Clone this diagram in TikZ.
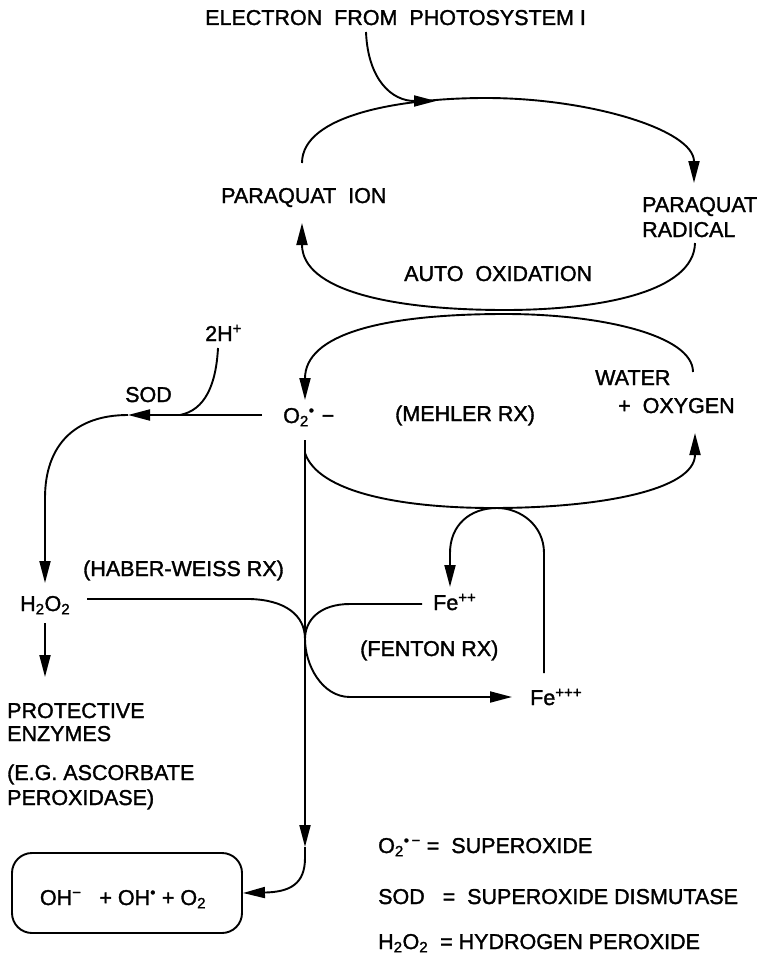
\documentclass[tikz,border=0pt]{standalone}
\usepackage{fontspec}
\setmainfont{Liberation Sans}
\newfontfamily\lblfam[FakeBold=1.5]{Liberation Sans}
\usetikzlibrary{arrows.meta}
\newcommand\lblfont{\lblfam\fontsize{21.5}{25}\selectfont}
\begin{document}
\begin{tikzpicture}[x=1pt,y=-1pt,
  lbl/.style={inner sep=0pt, font=\lblfont, align=left},
  flow/.style={line width=1.9pt, -{Triangle[length=22pt,width=11pt]}},
  plain/.style={line width=1.9pt},
  resbox/.style={draw, line width=1.9pt, rounded corners=20pt, minimum width=230pt, minimum height=80pt, inner sep=0pt}]
\useasboundingbox (0,0) rectangle (763,958);

% ---------- labels ----------
\node[lbl, anchor=base west] (electron) at (205,25) {ELECTRON\ \ FROM\ \ PHOTOSYSTEM I};
\node[lbl, anchor=base west] (pqion) at (221,203) {PARAQUAT\ \ ION};
\node[lbl, anchor=base west] (pqrad1) at (642,212) {PARAQUAT};
\node[lbl, anchor=base west] (pqrad2) at (642,237) {RADICAL};
\node[lbl, anchor=base west] (autoox) at (404,281) {AUTO\ \ OXIDATION};
\node[lbl, anchor=base west] (twoh) at (205,341) {2H\textsuperscript{+}};
\node[lbl, anchor=base west] (sod) at (125,402) {SOD};
\node[lbl, anchor=base west] (o2) at (283,423) {O\textsubscript{2}\textsuperscript{•}\,\,−};
\node[lbl, anchor=base west] (mehler) at (395,421) {(MEHLER RX)};
\node[lbl, anchor=base west] (water) at (595,385) {WATER};
\node[lbl, anchor=base west] (oxygen) at (618,413) {+\ \ OXYGEN};
\node[lbl, anchor=base west] (haber) at (83,576) {(HABER-WEISS RX)};
\node[lbl, anchor=base west] (h2o2) at (20,611) {H\textsubscript{2}O\textsubscript{2}};
\node[lbl, anchor=base west] (fe2) at (433,610) {Fe\textsuperscript{++}};
\node[lbl, anchor=base west] (fenton) at (360,656) {(FENTON RX)};
\node[lbl, anchor=base west] (fe3) at (530,705) {Fe\textsuperscript{+++}};
\node[lbl, anchor=base west] (prot1) at (7,718) {PROTECTIVE};
\node[lbl, anchor=base west] (prot2) at (7,741) {ENZYMES};
\node[lbl, anchor=base west] (eg1) at (7,780) {(E.G. ASCORBATE};
\node[lbl, anchor=base west] (eg2) at (7,805) {PEROXIDASE)};

% result box
\node[resbox] (res) at (127,893) {};
\node[lbl, anchor=base] (restext) at (123,905) {OH\textsuperscript{−}\ \ \ +\ OH\textsuperscript{•}\ +\ O\textsubscript{2}};

% legend
\node[lbl, anchor=base west] (leg1) at (378,853) {O\textsubscript{2}\textsuperscript{•\,−}\ =\ \ SUPEROXIDE};
\node[lbl, anchor=base west] (leg2) at (378,904) {SOD\ \ \ =\ \ SUPEROXIDE DISMUTASE};
\node[lbl, anchor=base west] (leg3) at (378,949) {H\textsubscript{2}O\textsubscript{2}\ \ =\ HYDROGEN PEROXIDE};

% ---------- coordinates ----------
\coordinate (eStart) at (366,32);
\coordinate (eEnd) at (436,101);
\coordinate (pqUL) at (302,163);
\coordinate (pqTop) at (486,98);
\coordinate (pqUR) at (694,183);
\coordinate (pqLR) at (695,243);
\coordinate (pqBot) at (505,310);
\coordinate (pqLL) at (302,223);
\coordinate (mhUR) at (693,372);
\coordinate (mhTop) at (505,314);
\coordinate (o2top) at (305,400);
\coordinate (o2low) at (305,453);
\coordinate (mhBot) at (493,508);
\coordinate (mhLR) at (695,433);
\coordinate (o2left) at (262,415);
\coordinate (sodTip) at (128,415);
\coordinate (h2o2top) at (45,583);
\coordinate (twohfoot) at (218,348);
\coordinate (twohjoin) at (180,415);
\coordinate (h2o2down) at (45,623);
\coordinate (protTip) at (45,677);
\coordinate (hwStart) at (87,599);
\coordinate (cusp) at (305,639);
\coordinate (fe2left) at (422,604);
\coordinate (fe3tip) at (512,697);
\coordinate (fe3top) at (544,673);
\coordinate (fe2tip) at (450,587);
\coordinate (o2under) at (305,440);
\coordinate (vTip) at (305,847);

% ---------- paraquat cycle ----------
\draw[flow] (eStart) .. controls (368,80) and (392,101) .. (eEnd);
\draw[flow] (pqUL) .. controls (302,115) and (400,98) .. (pqTop) .. controls (590,98) and (694,130) .. (pqUR);
\draw[flow] (pqLR) .. controls (694,292) and (600,310) .. (pqBot) .. controls (390,310) and (302,290) .. (pqLL);

% ---------- Mehler cycle ----------
\draw[flow] (mhUR) .. controls (693,335) and (600,314) .. (mhTop) .. controls (380,314) and (305,335) .. (o2top);
\draw[flow] (o2low) .. controls (318,492) and (400,508) .. (mhBot) .. controls (600,508) and (695,490) .. (mhLR);

% ---------- SOD branch ----------
\draw[flow] (o2left) -- (sodTip);
\draw[flow] (sodTip) .. controls (75,415) and (45,445) .. (45,498) -- (h2o2top);
\draw[plain] (twohfoot) .. controls (216,385) and (205,410) .. (twohjoin);
\draw[flow] (h2o2down) -- (protTip);

% ---------- Haber-Weiss / Fenton ----------
\draw[plain] (hwStart) -- (250,599) .. controls (285,600) and (305,615) .. (cusp);
\draw[flow] (fe2left) -- (350,604) .. controls (320,604) and (305,620) .. (cusp)
   .. controls (305,665) and (322,697) .. (350,697) -- (fe3tip);
\draw[flow] (fe3top) -- (544,553) .. controls (544,525) and (520,508) .. (497,508)
   .. controls (470,508) and (450,525) .. (450,553) -- (fe2tip);

% ---------- vertical to result ----------
\draw[flow] (o2under) -- (vTip);
\draw[flow] (vTip) -- (305,858) .. controls (305,884) and (290,892) .. (res.east);
\end{tikzpicture}
\end{document}
